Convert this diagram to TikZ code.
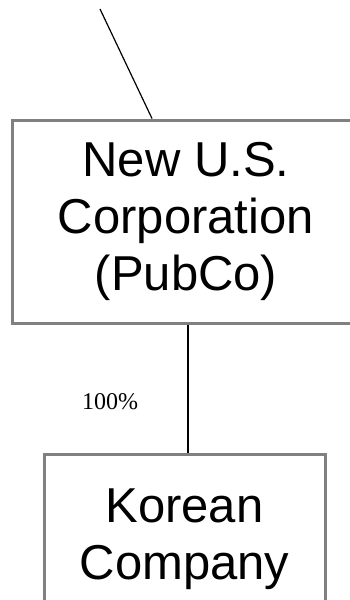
\documentclass[tikz,border=0pt]{standalone}
\usepackage{fontspec}
\setmainfont{Liberation Sans}
\newfontfamily\pctfont{Liberation Serif}
\usetikzlibrary{positioning}
\tikzset{
  entity/.style={draw=gray, line width=3pt, rectangle, align=center,
    font=\fontsize{49pt}{57pt}\selectfont, inner sep=0pt},
  link/.style={draw=black, line width=1.2pt},
  share/.style={font=\pctfont\fontsize{24pt}{28pt}\selectfont, inner sep=0pt}
}
\begin{document}
\begin{tikzpicture}[x=1pt,y=1pt]
% Page frame
\path[use as bounding box, clip] (0,0) rectangle (350,-600);
% Entities
\node[entity, minimum width=348pt, minimum height=203pt] (pubco) at (186,-221.5)
  {New U.S.\\Corporation\\(PubCo)};
\node[entity, minimum width=281pt, minimum height=170pt] (korean) at (184.5,-539)
  {Korean\\Company};
% Ownership
\coordinate (stem) at (188,0);
\coordinate (feed) at (100,-9);
\draw[link] (feed) -- ([xshift=-34pt]pubco.north);
\draw[link] (stem |- pubco.south) -- (stem |- korean.north);
\node[share] (pct) at (110,-402) {100\%};
\end{tikzpicture}
\end{document}
